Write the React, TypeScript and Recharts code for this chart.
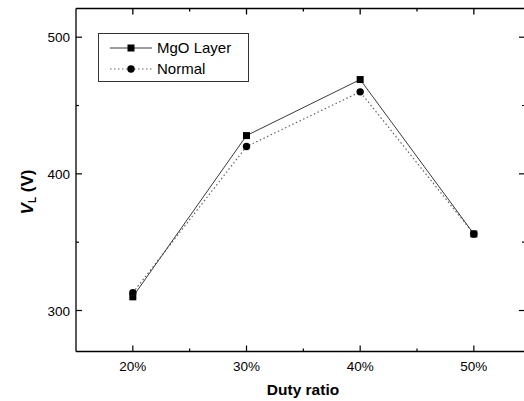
import React from 'react';
import { LineChart, Line, XAxis, YAxis, Legend, Label, ReferenceLine } from 'recharts';

const dutyRatios = [20, 30, 40, 50];
const mgoLayer = [310, 428, 469, 356];
const normalValues = [313, 420, 460, 356];
const xTicks = [20, 25, 30, 35, 40, 45, 50];
const xMajorTicks = [20, 30, 40, 50];
const yTicks = [300, 350, 400, 450, 500];
const yMajorTicks = [300, 400, 500];
const seriesNames = ['MgO Layer', 'Normal'];
const xDomain = [15, 54.5];
const yDomain = [270, 521];

const data = dutyRatios.map((d, i) => ({ duty: d, mgo: mgoLayer[i], normal: normalValues[i] }));

const FONT = '"Liberation Sans", Arial, sans-serif';
const CHART_W = 526;
const CHART_H = 401;
const MARGIN = { top: 8.5, right: 1, bottom: 0, left: 0 };
const Y_AXIS_W = 76;
const X_AXIS_H = 49.5;
const plotW = CHART_W - MARGIN.right - MARGIN.left - Y_AXIS_W;
const plotH = CHART_H - MARGIN.top - MARGIN.bottom - X_AXIS_H;
const pxPerX = plotW / (xDomain[1] - xDomain[0]);
const pxPerY = plotH / (yDomain[1] - yDomain[0]);
const MAJOR_LEN = 6;
const MINOR_LEN = 3;

const BottomTick = (props: any) => {
  const { x, y, payload } = props;
  const major = xMajorTicks.includes(payload.value);
  return (
    <g>
      <line x1={x} x2={x} y1={y} y2={y - (major ? MAJOR_LEN : MINOR_LEN)} stroke="#000" strokeWidth={1.2} />
      {major && (
        <text x={x} y={y + 19} textAnchor="middle" fontSize={13.5} fontFamily={FONT} fill="#000">
          {payload.value}%
        </text>
      )}
    </g>
  );
};

const LeftTick = (props: any) => {
  const { x, y, payload } = props;
  const major = yMajorTicks.includes(payload.value);
  return (
    <g>
      <line x1={x} x2={x + (major ? MAJOR_LEN : MINOR_LEN)} y1={y} y2={y} stroke="#000" strokeWidth={1.2} />
      {major && (
        <text x={x - 6} y={y + 5} textAnchor="end" fontSize={13.5} fontFamily={FONT} fill="#000">
          {payload.value}
        </text>
      )}
    </g>
  );
};

const SquareDot = (props: any) => {
  const { cx, cy, index } = props;
  if (cx == null || cy == null) return <g key={`s${index}`} />;
  return <rect key={`s${index}`} x={cx - 3.5} y={cy - 3.5} width={7} height={7} fill="#000" />;
};

const CircleDot = (props: any) => {
  const { cx, cy, index } = props;
  if (cx == null || cy == null) return <g key={`c${index}`} />;
  return <circle key={`c${index}`} cx={cx} cy={cy} r={3.7} fill="#000" />;
};

const YLabel = (props: any) => {
  const vb = props.viewBox || { x: 0, y: MARGIN.top, width: Y_AXIS_W, height: plotH };
  const cx = vb.x + 33;
  const cy = vb.y + vb.height / 2 + 12;
  return (
    <text x={cx} y={cy} transform={`rotate(-90 ${cx} ${cy})`} textAnchor="middle" fontSize={17} fontWeight="bold" fontFamily={FONT} fill="#000">
      <tspan fontStyle="italic">V</tspan>
      <tspan fontSize={10} dy={3}>L</tspan>
      <tspan dy={-3}> (V)</tspan>
    </text>
  );
};

const XLabel = (props: any) => {
  const vb = props.viewBox || { x: Y_AXIS_W, y: MARGIN.top + plotH, width: plotW, height: X_AXIS_H };
  return (
    <text x={vb.x + 227} y={vb.y + 43} textAnchor="middle" fontSize={15.5} fontWeight="bold" fontFamily={FONT} fill="#000">
      Duty ratio
    </text>
  );
};

const LegendContent = () => {
  return (
    <div style={{ boxSizing: 'border-box', width: 151, height: 49, border: '1px solid #333', background: '#fff', padding: '3px 0 2px 11px', fontFamily: FONT, fontSize: 15, color: '#000' }}>
      {seriesNames.map((name, i) => (
        <div key={name} style={{ display: 'flex', alignItems: 'center', height: 21 }}>
          <svg width={47} height={12} style={{ display: 'block' }}>
            {i === 0 ? (
              <>
                <line x1={0} x2={42} y1={6} y2={6} stroke="#3a3a3a" strokeWidth={1} />
                <rect x={17.5} y={2.5} width={7} height={7} fill="#000" />
              </>
            ) : (
              <>
                <line x1={0} x2={42} y1={6} y2={6} stroke="#666" strokeWidth={1.2} strokeDasharray="1.5 2.5" />
                <circle cx={21} cy={6} r={3.7} fill="#000" />
              </>
            )}
          </svg>
          <span style={{ lineHeight: '21px' }}>{name}</span>
        </div>
      ))}
    </div>
  );
};

export default function App() {
  return (
    <div style={{ position: 'absolute', left: 0, top: 0, width: 524, height: 401, overflow: 'hidden', background: '#fff' }}>
      <LineChart width={CHART_W} height={CHART_H} data={data} margin={MARGIN}>
        <XAxis dataKey="duty" type="number" domain={xDomain} ticks={xTicks} interval={0} height={X_AXIS_H} tickSize={0} tickMargin={0} tickLine={false} tick={<BottomTick />} axisLine={{ stroke: '#000', strokeWidth: 1.3 }} allowDataOverflow>
          <Label content={<XLabel />} />
        </XAxis>
        <YAxis type="number" domain={yDomain} ticks={yTicks} interval={0} width={Y_AXIS_W} tickSize={0} tickMargin={0} tickLine={false} tick={<LeftTick />} axisLine={{ stroke: '#000', strokeWidth: 1.3 }} allowDataOverflow>
          <Label content={<YLabel />} />
        </YAxis>
        <ReferenceLine y={yDomain[1]} stroke="#000" strokeWidth={1.4} ifOverflow="visible" />
        <ReferenceLine x={xDomain[1]} stroke="#000" strokeWidth={1.3} ifOverflow="visible" />
        {xTicks.map((t) => (
          <ReferenceLine
            key={`tt${t}`}
            ifOverflow="visible"
            stroke="#000"
            strokeWidth={1.3}
            segment={[
              { x: t, y: yDomain[1] },
              { x: t, y: yDomain[1] - (xMajorTicks.includes(t) ? MAJOR_LEN : MINOR_LEN) / pxPerY },
            ]}
          />
        ))}
        {yTicks.map((t) => (
          <ReferenceLine
            key={`rt${t}`}
            ifOverflow="visible"
            stroke="#000"
            strokeWidth={1.2}
            segment={[
              { x: xDomain[1], y: t },
              { x: xDomain[1] - (yMajorTicks.includes(t) ? MAJOR_LEN : MINOR_LEN) / pxPerX, y: t },
            ]}
          />
        ))}
        <Legend layout="vertical" align="center" verticalAlign="middle" content={<LegendContent />} wrapperStyle={{ left: 98, top: 33, width: 151, height: 49 }} />
        <Line type="linear" dataKey="normal" name={seriesNames[1]} stroke="#666" strokeWidth={1.2} strokeDasharray="1.5 2.5" dot={CircleDot} activeDot={false} isAnimationActive={false} />
        <Line type="linear" dataKey="mgo" name={seriesNames[0]} stroke="#3a3a3a" strokeWidth={1} dot={SquareDot} activeDot={false} isAnimationActive={false} />
      </LineChart>
    </div>
  );
}
